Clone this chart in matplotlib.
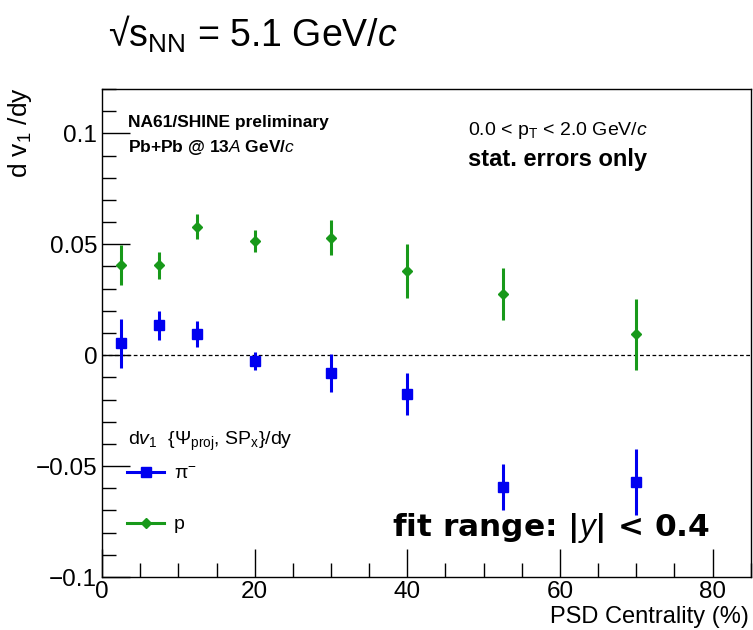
import matplotlib
matplotlib.use("Agg")
import matplotlib.pyplot as plt
from matplotlib.lines import Line2D
from matplotlib.ticker import MultipleLocator

plt.rcParams["font.family"] = ["Liberation Sans", "DejaVu Sans"]
plt.rcParams["mathtext.fontset"] = "custom"
plt.rcParams["mathtext.rm"] = "Liberation Sans"
plt.rcParams["mathtext.it"] = "Liberation Sans:italic"
plt.rcParams["mathtext.bf"] = "Liberation Sans:bold"

# centrality bins (%)
cent = [2.5, 7.5, 12.5, 20, 30, 40, 52.5, 70]

# dv1/dy for negative pions
pi_v = [0.0054, 0.0135, 0.0095, -0.0027, -0.0081, -0.0176, -0.0595, -0.0572]
pi_err = [0.011, 0.0065, 0.006, 0.004, 0.0085, 0.0095, 0.0105, 0.015]

# dv1/dy for protons
p_v = [0.0405, 0.0405, 0.058, 0.0515, 0.053, 0.038, 0.0275, 0.0095]
p_err = [0.009, 0.0062, 0.0058, 0.0048, 0.0078, 0.0122, 0.0118, 0.016]

BLUE = "#0000f0"
GREEN = "#18991a"

fig = plt.figure(figsize=(7.53, 6.3), dpi=100)
ax = fig.add_axes([0.1355, 0.0841, 0.8615, 0.7746])

ax.axhline(0, color="black", lw=0.9, ls=(0, (3, 2)), zorder=1)

ax.errorbar(cent, pi_v, yerr=pi_err, fmt="s", color=BLUE, ms=7,
            elinewidth=2.2, capsize=0, zorder=3)
ax.errorbar(cent, p_v, yerr=p_err, fmt="D", color=GREEN, ms=5.5,
            elinewidth=2.2, capsize=0, zorder=3)

ax.set_xlim(0, 85)
ax.set_ylim(-0.1, 0.12)
ax.xaxis.set_minor_locator(MultipleLocator(5))
ax.yaxis.set_minor_locator(MultipleLocator(0.01))
ax.set_xticks([0, 20, 40, 60, 80])
ax.set_xticklabels(["0", "20", "40", "60", "80"])
ax.set_yticks([-0.1, -0.05, 0, 0.05, 0.1])
ax.set_yticklabels(["\u22120.1", "\u22120.05", "0", "0.05", "0.1"])
ax.tick_params(which="both", direction="in", labelsize=17.5, top=False, right=False)
ax.tick_params(which="major", length=20, width=1)
ax.tick_params(which="minor", length=10, width=1)
ax.tick_params(axis="x", pad=3)
for s in ax.spines.values():
    s.set_linewidth(1)

ax.text(0.997, -0.082, "PSD Centrality (%)", transform=ax.transAxes,
        ha="right", va="center", fontsize=17)
ax.text(-0.126, 1.004, r"d v$_{\rm 1}$ /dy", transform=ax.transAxes,
        rotation=90, ha="center", va="top", fontsize=19)

fig.text(0.143, 0.945, r"√s$_{\rm NN}$ = 5.1 GeV/$\it{c}$", fontsize=27,
         ha="left", va="center")

ax.text(0.04, 0.932, "NA61/SHINE preliminary", transform=ax.transAxes,
        fontsize=12.5, fontweight="bold", va="center")
ax.text(0.04, 0.881, r"Pb+Pb @ 13$\it{A}$ GeV/$\it{c}$", transform=ax.transAxes,
        fontsize=12.5, fontweight="bold", va="center")
ax.text(0.564, 0.916, r"0.0 < p$_{\rm T}$ < 2.0 GeV/$\it{c}$", transform=ax.transAxes,
        fontsize=14, va="center")
ax.text(0.564, 0.855, "stat. errors only", transform=ax.transAxes,
        fontsize=17, fontweight="bold", va="center")
ax.text(0.447, 0.10, r"fit range: |$\bf{\it{y}}$| < 0.4", transform=ax.transAxes,
        fontsize=22.5, fontweight="bold", va="center", family="DejaVu Sans")

ax.text(0.04, 0.277, r"d$\it{v}_{\rm 1}$  {$\Psi_{\rm proj}$, SP$_{\rm x}$}/dy",
        transform=ax.transAxes, fontsize=14, va="center")
handles = [Line2D([], [], color=BLUE, marker="s", ms=7, lw=2.2),
           Line2D([], [], color=GREEN, marker="D", ms=5.5, lw=2.2)]
ax.legend(handles, ["π$^{-}$", "p"], loc="upper left",
          bbox_to_anchor=(0.012, 0.265), frameon=False, fontsize=14,
          handlelength=1.9, handletextpad=0.5, labelspacing=1.7)

fig.savefig("out.png", dpi=100)
